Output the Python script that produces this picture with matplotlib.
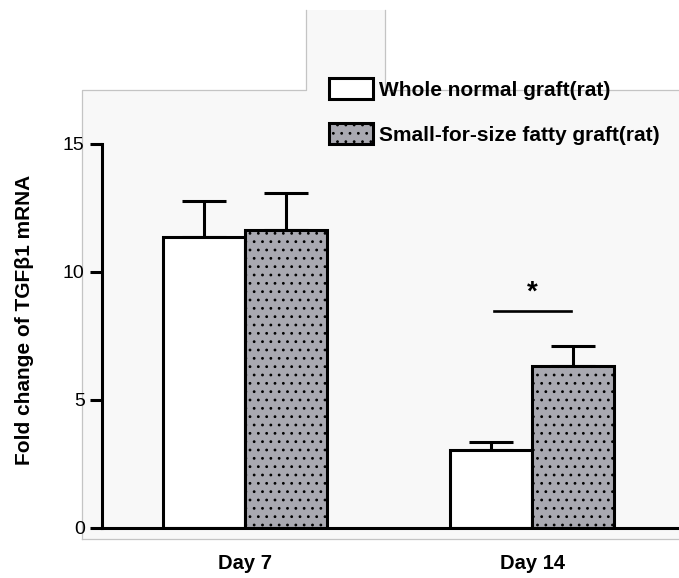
import matplotlib
matplotlib.use('Agg')
import matplotlib.pyplot as plt
from matplotlib import font_manager
from matplotlib.patches import Polygon
from matplotlib.lines import Line2D

# data
days = ['Day 7', 'Day 14']
normal_mean = [11.38, 3.05]
normal_err = [1.41, 0.32]
fatty_mean = [11.64, 6.33]
fatty_err = [1.46, 0.78]
legend_labels = ['Whole normal graft(rat)', 'Small-for-size fatty graft(rat)']
ylabel = 'Fold change of TGF\u03b21 mRNA'
yticks = [0, 5, 10, 15]

names = {f.name for f in font_manager.fontManager.ttflist}
narrow = 'Liberation Sans Narrow' if 'Liberation Sans Narrow' in names else 'Liberation Sans'
plt.rcParams['font.family'] = ['Liberation Sans', 'DejaVu Sans']
plt.rcParams['hatch.linewidth'] = 0.8

W, H = 679, 578
fig = plt.figure(figsize=(W / 100, H / 100), dpi=100)

def fp(x, y):
    return (x / W, 1 - y / H)

# light grey panel behind the chart (screenshot artefact)
panel = [fp(82, 539), fp(82, 90), fp(306, 90), fp(306, 10), fp(385, 10),
         fp(385, 90), fp(679, 90), fp(679, 539)]
fig.patches.append(Polygon(panel, closed=True, transform=fig.transFigure,
                           facecolor='#f8f8f8', edgecolor='none', zorder=-2))
for seg in [[(82, 539), (82, 90), (306, 90), (306, 10)],
            [(385, 10), (385, 90), (679, 90)],
            [(82, 539), (679, 539)]]:
    xs = [fp(*p)[0] for p in seg]
    ys = [fp(*p)[1] for p in seg]
    fig.lines.append(Line2D(xs, ys, transform=fig.transFigure, color='#c4c4c4', lw=0.9, zorder=-1))

ax = fig.add_axes([102 / W, 1 - 528 / H, (677 - 102) / W, (528 - 144) / H])
ax.patch.set_alpha(0)

x = [0, 1]
bw = 0.2857
lw = 2.2
xl = [i - bw / 2 for i in x]
xr = [i + bw / 2 for i in x]

b1 = ax.bar(xl, normal_mean, bw, color='white', edgecolor='black', linewidth=lw,
            label=legend_labels[0], zorder=3)
b2 = ax.bar(xr, fatty_mean, bw, color='#a9a9b1', edgecolor='black', linewidth=lw,
            hatch='..', label=legend_labels[1], zorder=3)
ax.errorbar(xl, normal_mean, yerr=[[0, 0], normal_err], fmt='none', ecolor='black',
            elinewidth=lw, capsize=15.8, capthick=lw, zorder=2)
ax.errorbar(xr, fatty_mean, yerr=[[0, 0], fatty_err], fmt='none', ecolor='black',
            elinewidth=lw, capsize=15.8, capthick=lw, zorder=2)

# significance marker
ax.plot([0.868, 1.136], [8.48, 8.48], color='black', lw=1.9, zorder=4)
ax.text(1.0, 9.2, '*', ha='center', va='center', fontsize=20, fontweight='bold')

ax.set_xlim(-0.498, 1.505)
ax.set_ylim(0, 15)
ax.spines['top'].set_visible(False)
ax.spines['right'].set_visible(False)
ax.spines['left'].set_linewidth(lw)
ax.spines['bottom'].set_linewidth(lw)
ax.spines['left'].set_zorder(5)
ax.spines['bottom'].set_zorder(5)

ax.set_yticks(yticks)
ax.set_yticklabels([str(t) for t in yticks], family=narrow, fontsize=14)
ax.tick_params(axis='y', length=8.5, width=lw, pad=4)
ax.set_xticks(x)
ax.set_xticklabels(days, family=narrow, fontsize=14.5, fontweight='bold')
ax.tick_params(axis='x', length=0, pad=19)

fig.text(25 / W, 1 - 320 / H, ylabel, rotation=90, ha='center', va='center',
         fontsize=15, fontweight='bold')

fig.legend(handles=[b1, b2], loc='upper left', bbox_to_anchor=fp(329, 78),
           frameon=False, prop={'weight': 'bold', 'size': 15},
           handlelength=2.1, handleheight=1.2, handletextpad=0.3,
           labelspacing=1.12, borderpad=0, borderaxespad=0)

fig.savefig('out.png', dpi=100)
